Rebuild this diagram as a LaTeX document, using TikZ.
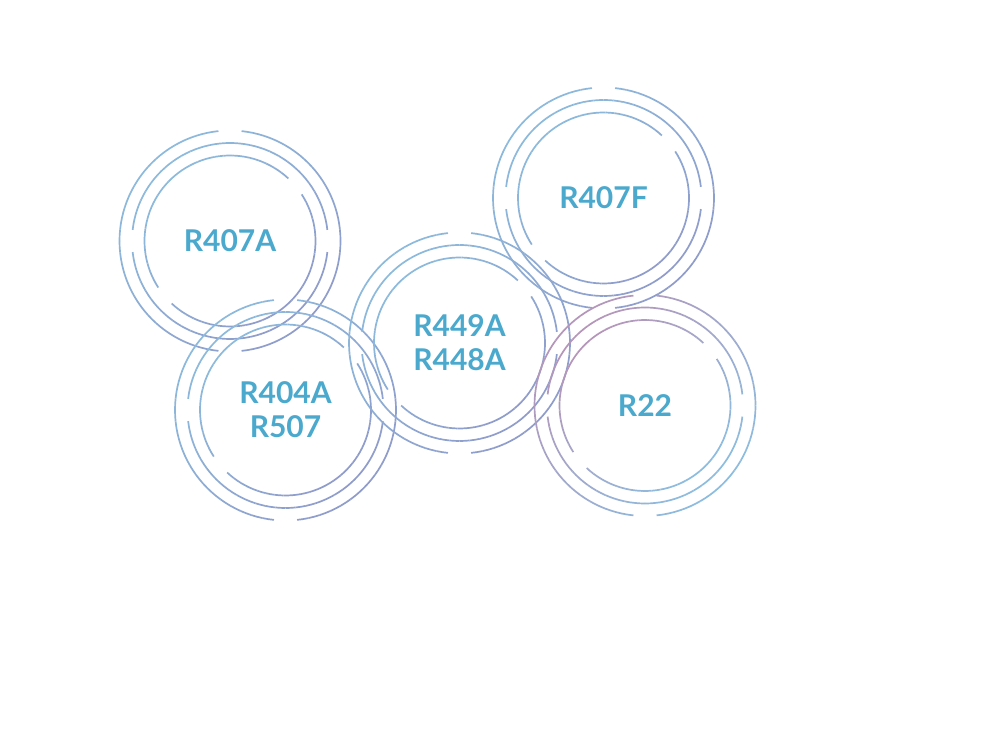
\documentclass[tikz,border=0pt]{standalone}
\usepackage{fontspec}
\setmainfont{Lato}
\definecolor{ringA}{HTML}{8CBADC}
\definecolor{ringB}{HTML}{8F9CCB}
\definecolor{ringC}{HTML}{B596BA}
\definecolor{ringD}{HTML}{8CBDE0}
\definecolor{labelc}{HTML}{4AA9CD}
\tikzset{
  ringline/.style={line width=1.7pt, line cap=butt},
  lbl/.style={text=labelc, font=\fontsize{30}{34}\selectfont\bfseries, align=center, inner sep=0pt}
}
% #1 centre name, #2 radius, #3 start, #4 end, #5 colour upper-left, #6 colour lower-right
\newcommand\gradarc[6]{%
  \foreach \i in {0,...,27}{
    \pgfmathsetmacro\sang{#3+(#4-#3)*\i/28}
    \pgfmathsetmacro\eang{#3+(#4-#3)*(\i+1)/28}
    \pgfmathtruncatemacro\mixv{50*(1-cos((\sang+\eang)/2-135))}
    \draw[ringline, draw=#6!\mixv!#5] ([shift={(\sang:#2)}]#1) arc[start angle=\sang, end angle=\eang, radius=#2];
  }}
% #1 name, #2 x, #3 y, #4 colour upper-left, #5 colour lower-right
\newcommand\ringset[5]{%
  \coordinate (#1) at (#2,#3);
  \gradarc{#1}{110.5}{96}{264}{#4}{#5}
  \gradarc{#1}{110.5}{276}{444}{#4}{#5}
  \gradarc{#1}{98}{6.5}{173.5}{#4}{#5}
  \gradarc{#1}{98}{186.5}{353.5}{#4}{#5}
  \gradarc{#1}{85.5}{47}{213}{#4}{#5}
  \gradarc{#1}{85.5}{227}{393}{#4}{#5}
}
\begin{document}
\begin{tikzpicture}[x=1pt,y=1pt]
  \fill[white] (0,0) rectangle (992,744);
  \useasboundingbox (0,0) rectangle (992,744);
  \ringset{cA}{230}{503}{ringA}{ringB}
  \ringset{cB}{285.5}{334}{ringA}{ringB}
  \ringset{cC}{459.5}{401}{ringA}{ringB}
  \ringset{cD}{603.5}{546}{ringA}{ringB}
  \ringset{cE}{645}{338.5}{ringC}{ringD}
  \node[lbl] (tA) at (cA) {R407A};
  \node[lbl] (tB) at (cB) {R404A\\R507};
  \node[lbl] (tC) at (cC) {R449A\\R448A};
  \node[lbl] (tD) at (cD) {R407F};
  \node[lbl] (tE) at (cE) {R22};
\end{tikzpicture}
\end{document}
